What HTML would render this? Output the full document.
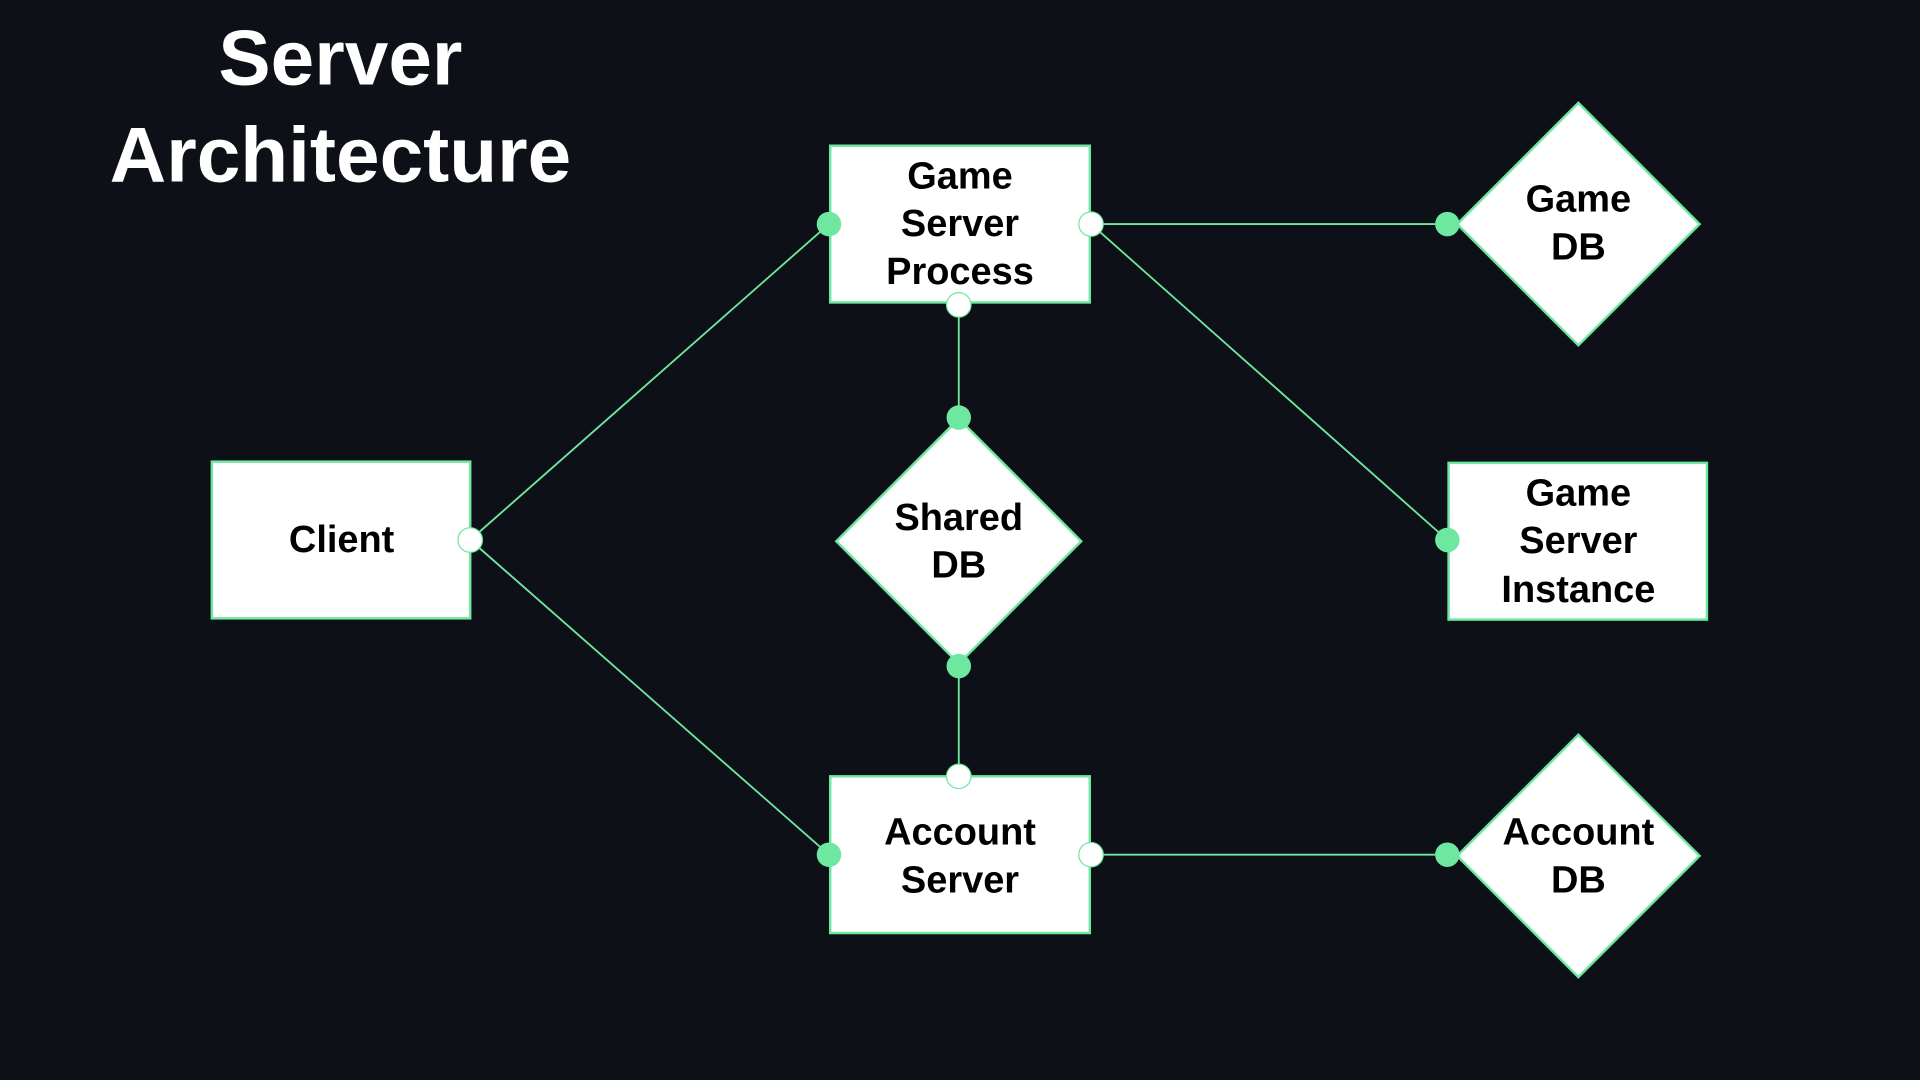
<!DOCTYPE html>
<html><head><meta charset="utf-8"><style>
html,body{margin:0;padding:0;background:#0d1017;width:1920px;height:1080px;overflow:hidden}
svg{display:block}
text{font-family:"Liberation Sans",sans-serif;font-weight:bold;text-anchor:middle;dominant-baseline:central}
</style></head><body>
<svg width="1920" height="1080" viewBox="0 0 1568 882" xmlns="http://www.w3.org/2000/svg">
<rect width="1568" height="882" fill="#0d1017"/>
<text x="278" y="47" fill="#fff" font-size="64">Server</text>
<text x="278" y="126" fill="#fff" font-size="64">Architecture</text>
<g stroke="#6ee7a0" stroke-width="1.5">
<line x1="384" y1="441" x2="677" y2="183"/>
<line x1="384" y1="441" x2="677" y2="698"/>
<line x1="891" y1="183" x2="1182" y2="183"/>
<line x1="891" y1="183" x2="1182" y2="441"/>
<line x1="783" y1="249" x2="783" y2="341"/>
<line x1="783" y1="544" x2="783" y2="634"/>
<line x1="891" y1="698" x2="1182" y2="698"/>
</g>
<g fill="#fff" stroke="#6ee7a0" stroke-width="2">
<rect x="678" y="119" width="212" height="128"/>
<rect x="173" y="377" width="211" height="128"/>
<rect x="678" y="634" width="212" height="128"/>
<rect x="1183" y="378" width="211" height="128"/>
<polygon points="1289,84 1388,183 1289,282 1190,183"/>
<polygon points="783,342 883,442 783,542 683,442"/>
<polygon points="1289,600 1388,699 1289,798 1190,699"/>
</g>
<g font-size="31" fill="#000">
<text x="784" y="144">Game</text><text x="784" y="183">Server</text><text x="784" y="222">Process</text>
<text x="279" y="441">Client</text>
<text x="784" y="680">Account</text><text x="784" y="719">Server</text>
<text x="1289" y="403">Game</text><text x="1289" y="442">Server</text><text x="1289" y="482">Instance</text>
<text x="1289" y="163">Game</text><text x="1289" y="202">DB</text>
<text x="783" y="423">Shared</text><text x="783" y="462">DB</text>
<text x="1289" y="680">Account</text><text x="1289" y="719">DB</text>
</g>
<g fill="#6ee7a0">
<circle cx="677" cy="183" r="10"/><circle cx="783" cy="341" r="10"/><circle cx="783" cy="544" r="10"/>
<circle cx="1182" cy="183" r="10"/><circle cx="1182" cy="441" r="10"/><circle cx="677" cy="698" r="10"/><circle cx="1182" cy="698" r="10"/>
</g>
<g fill="#fff" stroke="#6ee7a0" stroke-width="1">
<circle cx="891" cy="183" r="10"/><circle cx="783" cy="249" r="10"/><circle cx="384" cy="441" r="10"/>
<circle cx="783" cy="634" r="10"/><circle cx="891" cy="698" r="10"/>
</g>
</svg>
</body></html>
